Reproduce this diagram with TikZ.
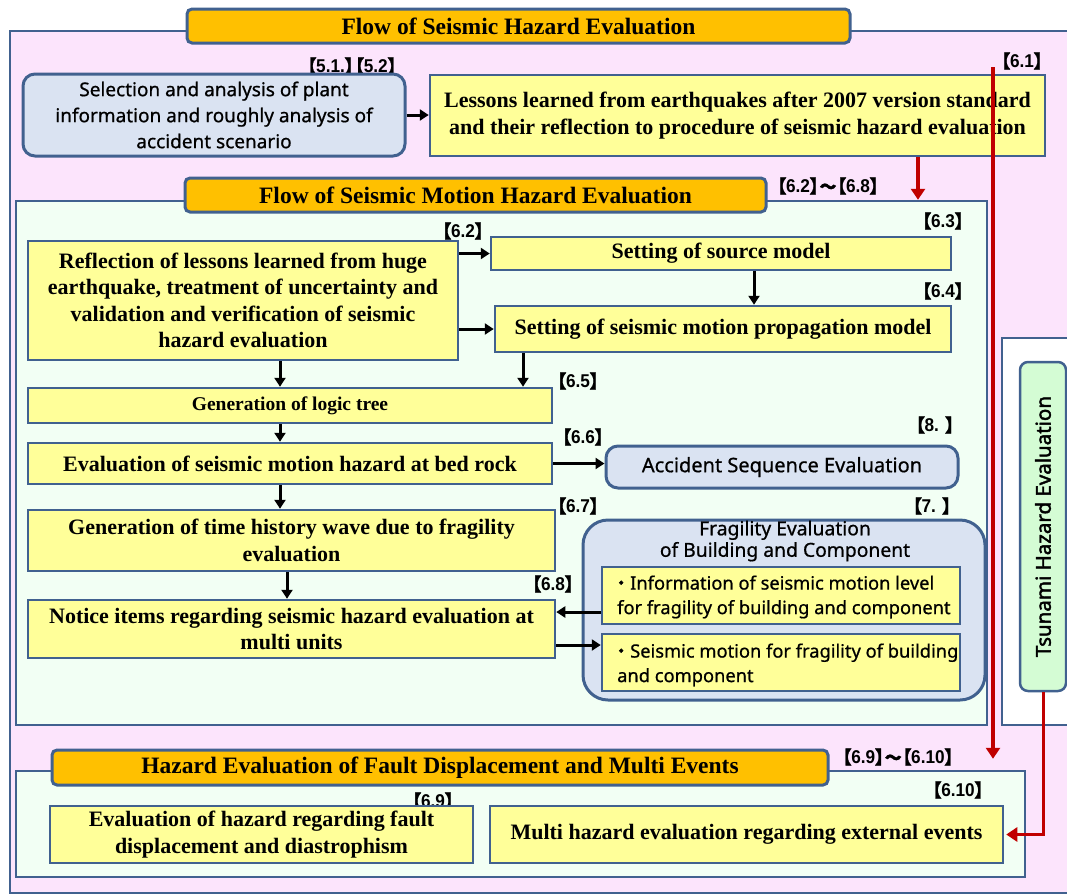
\documentclass[tikz,border=0pt]{standalone}
\usepackage{fontspec}
\setmainfont{Liberation Serif}
\newfontfamily\cjk[FakeBold=1.5]{Noto Sans CJK JP}
\newfontfamily\cjkdot[FakeBold=3]{Noto Sans CJK JP}
\newfontfamily\lblf[FakeStretch=0.93]{Liberation Sans}
\newfontfamily\sansf[FakeBold=0.7]{Noto Sans}
\newfontfamily\sansb[FakeBold=2]{Noto Sans}
\usetikzlibrary{arrows.meta}
\definecolor{cBorder}{HTML}{41618F}
\definecolor{cPink}{HTML}{FCE4FC}
\definecolor{cGreenBg}{HTML}{F2FFF4}
\definecolor{cYel}{HTML}{FFFF99}
\definecolor{cBlue}{HTML}{DAE3F2}
\definecolor{cOrange}{HTML}{FFC000}
\definecolor{cRed}{HTML}{C00000}
\definecolor{cTsu}{HTML}{D4FCD4}
\newcommand\bx[7]{%
  \pgfmathsetmacro\bxw{#5-(#3)}\pgfmathsetmacro\bxh{#6-(#4)}%
  \node[#1, minimum width=\bxw pt, minimum height=\bxh pt] (#2) at ({(#3+#5)/2},{(#4+#6)/2}) {#7};}
\newcommand\lbk{\kern-8pt{\fontsize{18}{20}\cjk 【}\kern-0.5pt}
\newcommand\rbk{\kern-0.5pt{\fontsize{18}{20}\cjk 】}\kern-8pt}
\newcommand\wavek{{\fontsize{17}{20}\cjk 〜}}
\tikzset{
  frame/.style={draw=cBorder, line width=2.5pt, inner sep=0pt},
  tabbox/.style={draw=cBorder, line width=3pt, fill=cOrange, rounded corners=5pt, inner sep=0pt,
    font=\fontsize{23.5}{26}\selectfont\bfseries},
  ybox/.style={draw=cBorder, line width=2.5pt, fill=cYel, inner sep=0pt, align=center,
    font=\fontsize{22}{26.3}\selectfont\bfseries},
  bbox/.style={draw=cBorder, line width=3pt, fill=cBlue, rounded corners=12pt, inner sep=0pt, align=center,
    font=\fontsize{19}{26}\sansf},
  sbox/.style={draw=cBorder, line width=2.5pt, fill=cYel, inner sep=0pt},
  stext/.style={anchor=west, align=left, inner sep=0pt, font=\fontsize{18.3}{24.5}\sansf},
  lbl/.style={inner sep=0pt, font=\fontsize{18.5}{20}\lblf\bfseries},
  arr/.style={-{Triangle[length=9pt,width=11pt]}, line width=3pt, black},
  redarr/.style={-{Triangle[length=11pt,width=14pt]}, line width=3.5pt, cRed},
}
\newcommand\dotb{\kern-5pt{\fontsize{18}{20}\cjkdot ・}}
\begin{document}
\begin{tikzpicture}[x=1pt, y={(0pt,-1pt)}]
\useasboundingbox (0,0) rectangle (1067,895);
\clip (0,0) rectangle (1067,895);
\fill[white] (0,0) rectangle (1067,895);
% outer frame
\bx{frame, fill=cPink}{outer}{10}{31}{1085}{893}{}
\bx{tabbox}{tab1}{187}{9}{850}{43}{Flow of Seismic Hazard Evaluation}
% top row
\node[lbl] (l51) at (352,66) {\lbk 5.1.\rbk\lbk 5.2\rbk};
\bx{bbox}{sel}{23}{74}{405}{156}{Selection and analysis of plant\\information and roughly analysis of\\accident scenario}
\bx{ybox}{les}{430}{75}{1045}{156}{Lessons learned from earthquakes after 2007 version standard\\and their reflection to procedure of seismic hazard evaluation}
\node[lbl] (l61) at (1022,61) {\lbk 6.1\rbk};
% tsunami frame
\bx{frame, fill=white}{tsf}{1002}{338}{1085}{725}{}
\bx{draw=cBorder, line width=2.5pt, fill=cTsu, rounded corners=8pt, inner sep=0pt}{tsu}{1020}{362}{1066}{691}{}
\node[rotate=90, inner sep=0pt, font=\fontsize{20.5}{22}\sansb] (tsut) at (tsu.center) {Tsunami Hazard Evaluation};
% seismic motion frame
\bx{frame, fill=cGreenBg}{mot}{16}{201}{987}{725}{}
\bx{tabbox}{tab2}{185}{178}{766}{212}{Flow of Seismic Motion Hazard Evaluation}
\node[lbl] (l628) at (828,186) {\lbk 6.2\rbk\wavek\lbk 6.8\rbk};
\node[lbl] (l62) at (463,231) {\lbk 6.2\rbk};
\node[lbl] (l63) at (943,221) {\lbk 6.3\rbk};
\node[lbl] (l64) at (943,291) {\lbk 6.4\rbk};
\node[lbl] (l65) at (578,381) {\lbk 6.5\rbk};
\node[lbl] (l66) at (583,437) {\lbk 6.6\rbk};
\node[lbl] (l8) at (935,425) {\lbk 8. \rbk};
\node[lbl] (l67) at (578,506) {\lbk 6.7\rbk};
\node[lbl] (l7) at (932,506) {\lbk 7. \rbk};
\node[lbl] (l68) at (553,584) {\lbk 6.8\rbk};
\bx{ybox}{refl}{28}{241}{458}{360}{Reflection of lessons learned from huge\\earthquake, treatment of uncertainty and\\validation and verification of seismic\\hazard evaluation}
\bx{ybox}{src}{491}{237}{951}{270}{Setting of source model}
\bx{ybox}{prop}{495}{306}{951}{352}{Setting of seismic motion propagation model}
\bx{ybox, font=\fontsize{19.5}{22}\selectfont\bfseries}{logic}{28}{388}{552}{423}{Generation of logic tree}
\bx{ybox}{bed}{28}{443}{552}{484}{Evaluation of seismic motion hazard at bed rock}
\bx{bbox, font=\fontsize{20}{24}\sansf}{acc}{606}{446}{958}{488}{Accident Sequence Evaluation}
\bx{ybox}{time}{28}{510}{555}{571}{Generation of time history wave due to fragility\\evaluation}
\bx{ybox}{notice}{28}{600}{555}{658}{Notice items regarding seismic hazard evaluation at\\multi units}
\bx{bbox, rounded corners=25pt}{frag}{583}{520}{985}{700}{}
\node[align=center, inner sep=0pt, font=\fontsize{19.3}{21.5}\sansf] (fragt) at (785,541) {Fragility Evaluation\\of Building and Component};
\bx{sbox}{info}{602}{567}{960}{624}{}
\node[stext] (infot) at (617,597) {\dotb Information of seismic motion level\\for fragility of building and component};
\bx{sbox}{smot}{602}{634}{960}{691}{}
\node[stext] (smott) at (617,665) {\dotb Seismic motion for fragility of building\\and component};
% bottom frame
\bx{frame, fill=cGreenBg}{bot}{16}{771}{1025}{877}{}
\bx{tabbox}{tab3}{52}{750}{828}{785}{Hazard Evaluation of Fault Displacement and Multi Events}
\node[lbl] (l6910) at (898,757) {\lbk 6.9\rbk\wavek\lbk 6.10\rbk};
\node[lbl] (l69) at (433,801) {\lbk 6.9\rbk};
\node[lbl] (l610) at (958,790) {\lbk 6.10\rbk};
\bx{ybox}{fault}{50}{806}{473}{863}{Evaluation of hazard regarding fault\\displacement and diastrophism}
\bx{ybox}{multi}{490}{806}{1003}{863}{Multi hazard evaluation regarding external events}
% helper coordinates
\coordinate (xa) at (280,0);
\coordinate (xb) at (523,0);
\coordinate (xc) at (287,0);
\coordinate (xd) at (754,0);
\coordinate (xr) at (918,0);
\coordinate (ya) at (0,612);
\coordinate (yb) at (0,645);
\coordinate (rstart) at (993,67);
% black arrows
\draw[arr] (sel.east) -- (sel.east -| les.west);
\draw[arr] (refl.east |- src.west) -- (src.west);
\draw[arr] (refl.east |- prop.west) -- (prop.west);
\draw[arr] (src.south -| xd) -- (prop.north -| xd);
\draw[arr] (refl.south -| xa) -- (logic.north -| xa);
\draw[arr] (prop.south -| xb) -- (logic.north -| xb);
\draw[arr] (logic.south -| xa) -- (bed.north -| xa);
\draw[arr] (bed.east) -- (bed.east -| acc.west);
\draw[arr] (bed.south -| xa) -- (time.north -| xa);
\draw[arr] (time.south -| xc) -- (notice.north -| xc);
\draw[arr] (info.west |- ya) -- (notice.east |- ya);
\draw[arr] (notice.east |- yb) -- (smot.west |- yb);
% red arrows
\draw[redarr] (les.south -| xr) -- (mot.north -| xr);
\draw[redarr, shorten >=11pt] (rstart) -- (rstart |- bot.north);
\draw[redarr, line width=3pt] (tsu.south) -- (tsu.south |- multi.east) -- ([xshift=2pt]multi.east);
\end{tikzpicture}
\end{document}
